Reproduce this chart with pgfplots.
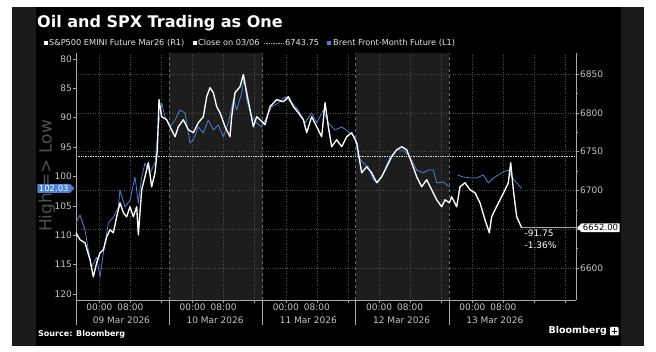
\documentclass[border=0pt]{standalone}
\usepackage{fontspec}
\setmainfont{DejaVu Sans}
\usepackage{pgfplots}
\pgfplotsset{compat=1.18}
\usetikzlibrary{shapes.symbols}
\definecolor{bbblue}{HTML}{4A7FD6}
\definecolor{stripc}{HTML}{1A1A1A}
\definecolor{bandc}{HTML}{1D1D1D}
\definecolor{gridc}{HTML}{4A4A4A}
\definecolor{sepc}{HTML}{6A6A6A}
\definecolor{axisc}{HTML}{A8A8A8}
\definecolor{tickc}{HTML}{C4C4C4}
\definecolor{labc}{HTML}{505050}
\definecolor{legc}{HTML}{E6E6E6}
\newcommand\fsz[1]{\fontsize{#1}{#1}\selectfont}

\pgfplotstableread{
h v
-6.0 107.91
-4.97 106.55
-3.68 109.10
-2.82 112.51
-1.96 115.40
-0.68 113.70
0.18 117.10
1.04 113.02
2.32 107.91
3.61 106.89
4.90 105.19
5.33 102.30
6.62 105.19
7.90 104.00
9.19 100.08
10.05 104.51
10.91 100.08
11.76 97.70
13.05 99.40
14.34 97.70
15.19 91.57
16.05 87.49
16.91 89.87
18.20 91.57
19.48 90.38
20.77 88.68
22.06 89.19
23.35 94.30
24.20 93.79
25.49 91.57
26.78 92.59
28.06 90.38
29.35 92.08
30.64 91.23
31.93 93.28
33.21 90.89
34.50 86.98
35.36 88.68
36.65 85.79
37.33 83.06
37.93 86.98
39.22 89.87
40.51 90.89
41.79 91.57
43.08 89.87
44.37 88.17
46.08 87.49
47.80 86.47
49.52 87.49
51.23 88.68
52.95 90.89
54.66 89.19
55.95 90.89
57.67 88.68
58.95 90.89
60.67 92.08
62.39 91.57
64.53 92.59
65.82 93.28
66.68 96.68
67.96 97.70
69.25 98.38
70.54 100.59
71.82 100.93
73.11 99.40
74.83 96.68
76.54 95.49
78.26 95.49
79.97 96.68
81.69 98.89
83.41 99.40
84.69 98.89
85.98 98.89
86.84 101.10
88.55 100.93
90.10 101.79
}\brentA

\pgfplotstableread{
h v
92.16 99.74
93.70 100.08
95.42 100.25
97.13 100.25
98.85 99.74
100.14 101.10
101.42 100.25
102.71 99.74
104.00 99.23
105.28 98.89
106.14 100.08
107.43 101.10
108.72 102.03
}\brentB

\pgfplotstableread{
h v
-6.0 6645.5
-4.97 6636.5
-3.68 6632.6
-2.39 6610.7
-1.54 6588.8
-0.68 6606.8
0.18 6619.7
1.04 6623.6
1.90 6640.3
2.75 6649.4
3.61 6645.5
4.47 6666.1
5.33 6684.1
6.19 6671.3
7.04 6666.1
7.90 6679.0
8.76 6666.1
9.62 6679.0
10.05 6642.9
10.91 6700.9
11.76 6717.7
12.62 6735.7
13.48 6704.8
14.34 6722.8
14.94 6752.4
15.37 6816.9
16.05 6795.0
17.34 6791.1
18.20 6782.1
19.48 6769.2
20.34 6782.1
21.63 6791.1
22.92 6778.2
24.20 6774.4
25.49 6787.2
26.78 6795.0
27.64 6820.7
28.49 6832.3
29.35 6825.9
30.21 6807.9
31.07 6800.1
32.36 6782.1
33.64 6769.2
34.07 6795.0
34.93 6825.9
36.22 6833.6
37.07 6849.1
37.93 6825.9
38.79 6804.0
39.65 6782.1
40.51 6795.0
41.36 6791.1
42.65 6784.7
43.94 6807.9
45.65 6816.9
47.37 6814.3
48.66 6820.7
49.94 6807.9
51.23 6800.1
52.52 6791.1
53.38 6774.4
54.66 6795.0
55.95 6782.1
57.24 6769.2
58.10 6813.0
58.95 6782.1
59.81 6756.3
61.10 6765.3
62.39 6756.3
63.67 6769.2
64.96 6774.4
66.25 6761.5
67.10 6735.7
67.53 6722.8
68.82 6730.5
70.11 6722.8
71.40 6709.9
72.68 6717.7
73.97 6730.5
75.26 6743.4
76.54 6752.4
77.83 6756.3
79.12 6752.4
80.40 6735.7
81.69 6717.7
82.98 6704.8
84.26 6713.8
85.55 6700.9
86.84 6688.0
88.12 6679.0
88.98 6688.0
90.10 6684.1
90.70 6691.9
91.99 6679.0
92.84 6704.8
94.13 6709.9
95.42 6700.9
96.71 6697.0
97.99 6684.1
99.28 6662.2
100.39 6645.5
100.99 6666.1
101.85 6675.1
103.14 6688.0
104.43 6700.9
105.28 6709.9
105.89 6735.7
106.57 6700.9
107.43 6666.1
108.72 6652.0
}\spx

\pgfplotsset{base/.style={at={(76pt,52pt)}, anchor=south west, scale only axis,
  width=500pt, height=247pt, xmin=-6, xmax=122.7, clip=false,
  /pgf/number format/assume math mode=true, /pgf/number format/1000 sep={}}}

\begin{document}
\begin{tikzpicture}[x=1pt,y=1pt]
\fill[white] (0,0) rectangle (656,352);
\fill[stripc] (12,6) rectangle (644,345);
\fill[black] (36,6) rectangle (621,345);
% day bands (10 Mar, 12 Mar)
\fill[bandc] (169.2,52) rectangle (262.5,299);
\fill[bandc] (355.7,52) rectangle (449.0,299);
% day separators below the axis
\foreach \x in {76,169.2,262.5,355.7,449.0} {\draw[axisc, line width=0.5pt] (\x,52) -- (\x,27);}
% title
\node[anchor=base west, inner sep=0, text=white, font=\fsz{16}\bfseries] at (37,324) {Oil and SPX Trading as One};
% legend
\fill[white] (44,307) rectangle (48,311);
\node[anchor=west, inner sep=0, text=legc, font=\fsz{8.2}] at (49,309) {S\&P500 EMINI Future Mar26 (R1)};
\fill[white] (193,307) rectangle (197,311);
\node[anchor=west, inner sep=0, text=legc, font=\fsz{8.2}] at (198,309) {Close on 03/06};
\draw[axisc, densely dotted, line width=0.7pt] (264,309) -- (283,309);
\node[anchor=west, inner sep=0, text=legc, font=\fsz{8.2}] at (285,309) {6743.75};
\fill[bbblue] (327,307) rectangle (331,311);
\node[anchor=west, inner sep=0, text=legc, font=\fsz{8.2}] at (333,309) {Brent Front-Month Future (L1)};
% y label
\node[rotate=90, text=labc, font=\fsz{17}] at (47,176) {High => Low};
% source & logo
\node[anchor=west, inner sep=0, text=white, font=\fsz{8}\bfseries] at (38,18) {Source: Bloomberg};
\node[anchor=east, inner sep=0, text=white, font=\fsz{9.5}\bfseries] at (607,21) {Bloomberg};
\fill[white, rounded corners=0.8pt] (610,16.5) rectangle (618.5,25);
\draw[black, line width=0.6pt] (614.2,17.5) -- (614.2,23.5);
\draw[black, line width=0.6pt] (612,21) -- (616.5,21);

% grid axis
\begin{axis}[base, ymin=6559, ymax=6877,
  axis line style={draw=none}, tick style={draw=none},
  xtick={0,8,...,120}, ytick={6600,6650,...,6850},
  xticklabels={}, yticklabels={}, major tick length=0pt,
  grid=major, grid style={gridc, dotted, line width=0.5pt}]
\foreach \d in {18,42,66,90} {
  \edef\tmp{\noexpand\draw[sepc, dashed, line width=0.5pt] (axis cs:\d,6559) -- (axis cs:\d,6877);}\tmp
}
\draw[white!85!black, densely dotted, line width=0.7pt] (axis cs:-6,6743.75) -- (axis cs:122.7,6743.75);
\end{axis}

% Brent axis (left, reversed)
\begin{axis}[base, ymin=79, ymax=121, y dir=reverse,
  axis x line=none, axis y line*=left,
  axis line style={axisc, line width=0.6pt, -},
  ytick={80,85,...,120}, tick align=outside, major tick length=3pt,
  tick style={axisc, line width=0.5pt},
  yticklabel style={text=tickc, font=\fsz{9}, inner sep=1pt}]
\addplot[bbblue, line width=0.8pt, line join=round] table[x=h, y=v] {\brentA};
\addplot[bbblue, line width=0.8pt, line join=round] table[x=h, y=v] {\brentB};
\node[shape=signal, signal to=east, fill=bbblue, text=white, font=\fsz{8.5}, inner xsep=1.5pt, inner ysep=1.2pt, anchor=east] at (axis cs:-6.3,102.03) {102.03};
\end{axis}

% SPX axis (right)
\begin{axis}[base, ymin=6559, ymax=6877,
  axis x line*=bottom, axis y line*=right,
  axis line style={axisc, line width=0.6pt, -},
  ytick={6600,6650,...,6850}, yticklabels={6600,,6700,6750,6800,6850},
  minor y tick num=1,
  xtick={0,8,...,120},
  xticklabels={00:00,08:00,,00:00,08:00,,00:00,08:00,,00:00,08:00,,00:00,08:00,,},
  tick align=outside, major tick length=3pt, minor tick length=2pt,
  tick style={axisc, line width=0.5pt},
  yticklabel style={text=tickc, font=\fsz{9}, inner sep=1pt},
  xticklabel style={text=tickc, font=\fsz{9}, inner sep=1pt}]
\addplot[white, line width=1.35pt, line join=round] table[x=h, y=v] {\spx};
\draw[axisc, line width=0.6pt] (axis cs:108.72,6652) -- (axis cs:122.7,6652);
\node[shape=signal, signal to=west, fill=white, text=black, font=\fsz{8.5}, inner xsep=1.5pt, inner ysep=1.2pt, anchor=west] at (axis cs:122.9,6652) {6652.00};
\node[anchor=north west, align=left, inner sep=0, text=white, font=\fontsize{9}{12.5}\selectfont] at (axis cs:109.4,6650) {-91.75\\ -1.36\%};
\foreach \d/\t in {5.7/09 Mar 2026, 29.8/10 Mar 2026, 53.8/11 Mar 2026, 77.8/12 Mar 2026, 101.8/13 Mar 2026} {
  \edef\tmp{\noexpand\node[text=tickc, font=\noexpand\fsz{9}, yshift=-20pt] at (axis cs:\d,6559) {\t};}\tmp
}
\end{axis}
\end{tikzpicture}
\end{document}
